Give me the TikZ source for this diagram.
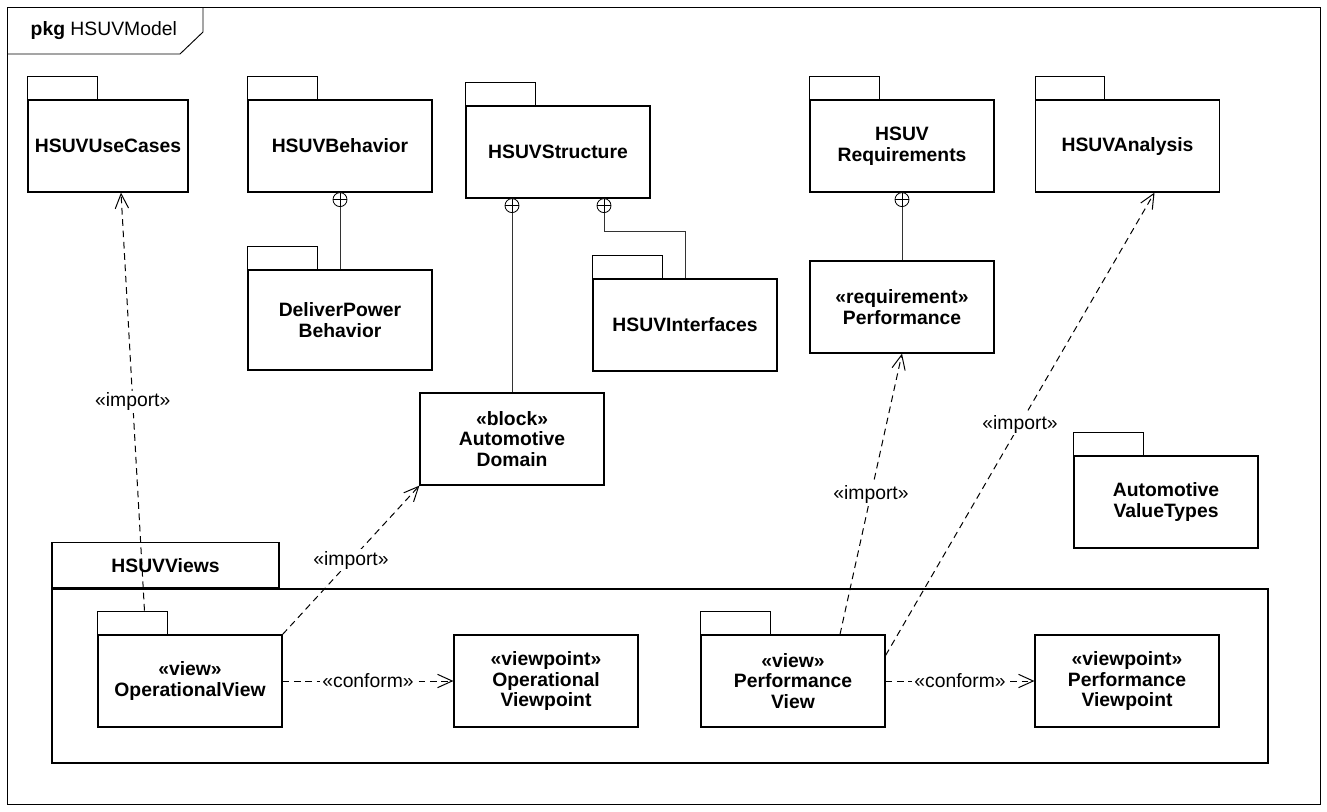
\documentclass[tikz,border=0pt]{standalone}
\usepackage{fontspec}
\setmainfont{Liberation Sans}
\usetikzlibrary{arrows.meta,calc}

\newcommand{\umlfont}{\fontsize{14.5pt}{15.5pt}\selectfont}
\tikzset{
	body/.style={draw, line width=0.9pt, fill=white, minimum width=138pt, minimum height=69pt, inner sep=0pt, align=center, font=\umlfont\bfseries},
	tabbox/.style={draw, line width=0.6pt, minimum width=52pt, minimum height=17.25pt, inner sep=0pt, anchor=south west},
	nest/.style={draw, circle, line width=0.6pt, minimum size=10.5pt, inner sep=0pt, fill=white,
		path picture={\draw[line width=0.6pt] (path picture bounding box.north) -- (path picture bounding box.south)
			(path picture bounding box.west) -- (path picture bounding box.east);}},
	nestline/.style={line width=0.6pt, draw=black!80},
	dep/.style={line width=0.75pt, dash pattern=on 5pt off 3.5pt, -{Straight Barb[length=11pt,width=10pt,line width=0.75pt]}},
	lbl/.style={fill=white, inner sep=1.5pt},
}
\newcommand{\pkgtab}[1]{\node[tabbox] (#1tab) at (#1.north west) {};}

\begin{document}
\begin{tikzpicture}[x=0.75pt, y=-0.75pt, font=\umlfont]
	\useasboundingbox (0,0) rectangle (1327,811);
	\draw[line width=0.7pt] (7,7) rectangle (1320,804);
	\draw[line width=0.7pt] (7,54) -- (180,54) -- (203,32) -- (203,7);
	\node[anchor=west] (title) at (26,31) {\textbf{pkg} HSUVModel};

	\node[body, minimum width=120pt] (uc) at (108,146) {HSUVUseCases};
	\pkgtab{uc}
	\node[body] (beh) at (340,146) {HSUVBehavior};
	\pkgtab{beh}
	\node[body, minimum height=75pt] (dpb) at (340,320) {DeliverPower\\Behavior};
	\pkgtab{dpb}
	\node[body] (str) at (558,152) {HSUVStructure};
	\pkgtab{str}
	\node[body] (ifc) at (685,325) {HSUVInterfaces};
	\pkgtab{ifc}
	\node[body] (dom) at (512,439) {«block»\\Automotive\\Domain};
	\node[body] (req) at (902,146) {HSUV\\Requirements};
	\pkgtab{req}
	\node[body] (perf) at (902,307) {«requirement»\\Performance};
	\node[body] (ana) at (1127.5,146) {HSUVAnalysis};
	\pkgtab{ana}
	\node[body] (avt) at (1166,502) {Automotive\\ValueTypes};
	\pkgtab{avt}

	\node[draw, line width=0.9pt, minimum width=912pt, minimum height=130.5pt] (views) at (660,676) {};
	\node[draw, line width=0.9pt, minimum width=170.25pt, minimum height=33.75pt, anchor=south west, font=\umlfont\bfseries] (viewstab) at (views.north west) {HSUVViews};
	\node[body] (opv) at (190,681) {«view»\\OperationalView};
	\pkgtab{opv}
	\node[body] (opvp) at (546,681) {«viewpoint»\\Operational\\Viewpoint};
	\node[body] (pfv) at (793,681) {«view»\\Performance\\View};
	\pkgtab{pfv}
	\node[body] (pfvp) at (1127,681) {«viewpoint»\\Performance\\Viewpoint};

	\node[nest] (bn) at ($(beh.south)+(0,7)$) {};
	\node[nest] (sn1) at ($(str.south)+(-46,7)$) {};
	\node[nest] (sn2) at ($(str.south)+(46,7)$) {};
	\node[nest] (rn) at ($(req.south)+(0,7)$) {};
	\coordinate (ifcbend) at ($(ifc.north)+(0,-47)$);
	\draw[nestline] (bn) -- (dpb);
	\draw[nestline] (sn1) -- (dom);
	\draw[nestline] (sn2) |- (ifcbend) -- (ifc.north);
	\draw[nestline] (rn) -- (perf);

	\draw[dep] ($(opvtab.north)+(12,0)$) -- node[lbl] {«import»} ($(uc.south)+(13,0)$);
	\draw[dep] (opv.north east) -- node[lbl] {«import»} (dom.south west);
	\draw[dep] ($(pfv.north)+(47,0)$) -- node[lbl] {«import»} (perf.south);
	\draw[dep] ($(pfv.north east)+(0,21)$) -- node[lbl] {«import»} ($(ana.south)+(27,0)$);
	\draw[dep] (opv) -- node[lbl] {«conform»} (opvp);
	\draw[dep] (pfv) -- node[lbl] {«conform»} (pfvp);
\end{tikzpicture}
\end{document}
